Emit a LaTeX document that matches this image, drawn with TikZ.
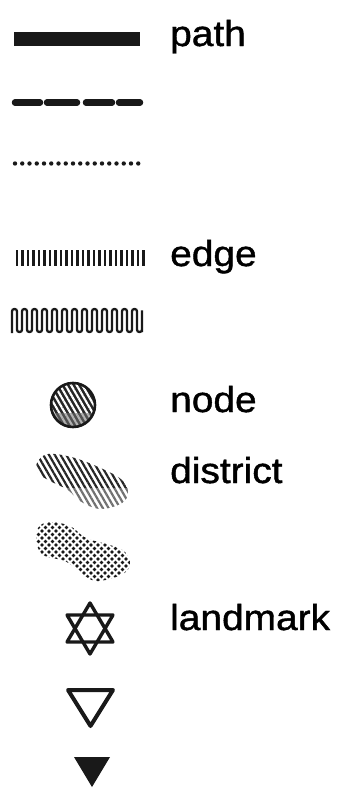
\documentclass[tikz,border=0pt]{standalone}
\usepackage{fontspec}
\setmainfont[FakeStretch=1.08,FakeBold=1.2]{Liberation Sans}
\usetikzlibrary{patterns.meta}
\begin{document}
\begin{tikzpicture}[x=1pt,y=-1pt,
  lbl/.style={anchor=base west,inner sep=0pt,font=\fontsize{36}{36}\selectfont},
  ink/.style={black!90}]
\useasboundingbox (0,0) rectangle (341,790);
% path: thick line
\draw[ink,line width=14pt] (14,39) -- (140,39);
% dashed line
\foreach \a/\b in {15/40,47/77,86/112,119/140}
  \draw[ink,line width=6.5pt,line cap=round] (\a,102.5) -- (\b,102.5);
% dotted line
\foreach \i in {0,...,17}
  \fill[ink] (15+7.25*\i,163.5) circle (2.2pt);
% edge: ticks
\foreach \i in {0,...,23}
  \draw[ink,line width=2.5pt] (17+5.5*\i,250) -- (17+5.5*\i,266);
% meander
\draw[ink,line width=2.3pt,rounded corners=2.3pt] (12,333)
  \foreach \i in {0,...,12} { -- (12+10*\i,309) -- (17+10*\i,309) -- (17+10*\i,332) -- (22+10*\i,332) }
  -- (142,309) -- (142,332);
% node circle
\begin{scope}
  \clip (73,405) circle (23pt);
  \fill[black!85] (73,405) circle (23pt);
  \fill[pattern={Lines[angle=-60,distance=4.8pt,line width=2.1pt]},pattern color=white] (40,370) rectangle (110,432);
  \fill[black!55,opacity=0.55] (40,413) rectangle (110,432);
\end{scope}
\draw[ink,line width=2.6pt] (73,405) circle (22pt);
% district hatched
\begin{scope}
  \clip plot[smooth cycle,tension=0.6] coordinates {(37,463) (48,454) (75,458) (105,470) (122,480) (128,492) (122,503) (100,509) (80,501) (68,490) (50,481) (38,473)};
  \fill[pattern={Lines[angle=-60,distance=5pt,line width=2.2pt]},pattern color=black!85] (30,445) rectangle (135,515);
  \fill[white,opacity=0.35] (30,488) rectangle (135,515);
\end{scope}
% district dotted
\begin{scope}
  \clip plot[smooth cycle,tension=0.6] coordinates {(38,528) (50,522) (70,526) (86,538) (110,545) (125,552) (130,565) (121,575) (96,581) (80,572) (65,561) (45,556) (37,545)};
  \fill[pattern={Dots[distance=7pt,radius=1.9pt]},pattern color=black!90] (30,515) rectangle (135,590);
  \fill[pattern={Dots[distance=7pt,radius=1.9pt,xshift=3.5pt,yshift=3.5pt]},pattern color=black!90] (30,515) rectangle (135,590);
\end{scope}
% landmark star
\draw[ink,line width=3.4pt,line join=round] (90,603) -- (67,642) -- (113,642) -- cycle;
\draw[ink,line width=3.4pt,line join=round] (90,654) -- (67,615) -- (113,615) -- cycle;
% open triangle
\draw[ink,line width=4pt,line join=round] (68,690) -- (113,690) -- (90.5,726) -- cycle;
% filled triangle
\fill[ink] (74,757) -- (110,757) -- (92,787) -- cycle;
% labels
\node[lbl] (tpath) at (170,46) {path};
\node[lbl] (tedge) at (170,266) {edge};
\node[lbl] (tnode) at (170,412) {node};
\node[lbl] (tdistrict) at (170,483) {district};
\node[lbl] (tlandmark) at (170,630) {landmark};
\end{tikzpicture}
\end{document}
